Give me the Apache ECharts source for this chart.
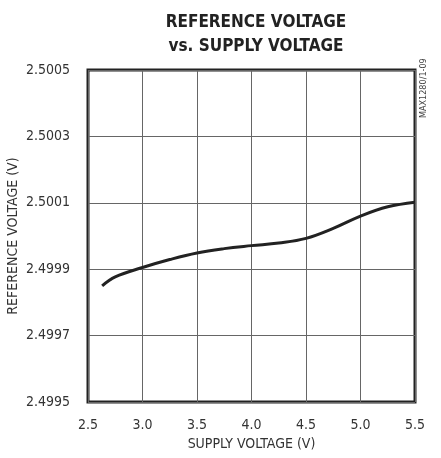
<!DOCTYPE html>
<html>
<head>
<meta charset="utf-8">
<script src="https://cdn.jsdelivr.net/npm/echarts@6/dist/echarts.min.js"></script>
<style>
html,body{margin:0;padding:0;background:#fff;}
#c{width:441px;height:458px;}
</style>
</head>
<body>
<div id="c"></div>
<script>
const supplyVoltage = [2.63, 2.75, 3.0, 3.25, 3.5, 3.75, 4.0, 4.25, 4.5, 4.75, 5.0, 5.25, 5.5];
const referenceVoltage = [2.49985, 2.499877, 2.499905, 2.499929, 2.499949, 2.499962, 2.499971, 2.499979, 2.499993, 2.500023, 2.50006, 2.500088, 2.500102];
const titleLines = ['REFERENCE VOLTAGE', 'vs. SUPPLY VOLTAGE'];
const xName = 'SUPPLY VOLTAGE (V)';
const yName = 'REFERENCE VOLTAGE (V)';
const sideNote = 'MAX1280/1-09';

const FONT = '"Liberation Sans Narrow", "DejaVu Sans Condensed", "Liberation Sans", sans-serif';
const chart = echarts.init(document.getElementById('c'));
chart.setOption({
  animation: false,
  backgroundColor: '#fff',
  title: {
    text: titleLines.join('\n'),
    left: 251, top: 6, textAlign: 'center',
    textStyle: { fontFamily: FONT, fontWeight: 'bold', fontSize: 17, lineHeight: 24, color: '#222' }
  },
  grid: { left: 88, right: 26, top: 70, bottom: 56, show: true, borderColor: '#222', borderWidth: 3, containLabel: false, outerBoundsMode: 'none' },
  xAxis: {
    type: 'value', min: 2.5, max: 5.5, interval: 0.5,
    name: xName, nameLocation: 'middle', nameGap: 35, nameMoveOverlap: false,
    nameTextStyle: { fontFamily: FONT, fontSize: 14, color: '#333' },
    axisLine: { show: false }, axisTick: { show: false },
    axisLabel: { fontFamily: FONT, fontSize: 14, color: '#333', margin: 16, formatter: v => v.toFixed(1) },
    splitLine: { show: true, lineStyle: { color: '#666', width: 1 } }
  },
  yAxis: {
    type: 'value', min: 2.4995, max: 2.5005, interval: 0.0002,
    name: yName, nameLocation: 'middle', nameGap: 68, nameRotate: 90, nameMoveOverlap: false,
    nameTextStyle: { fontFamily: FONT, fontSize: 14, color: '#333' },
    axisLine: { show: false }, axisTick: { show: false },
    axisLabel: { fontFamily: FONT, fontSize: 14, color: '#333', margin: 18, formatter: v => v.toFixed(4) },
    splitLine: { show: true, lineStyle: { color: '#666', width: 1 } }
  },
  graphic: [{
    type: 'text', x: 419, y: 118, rotation: Math.PI / 2, originX: 0, originY: 0,
    style: { text: sideNote, fontFamily: FONT, fontSize: 9, fill: '#444' }
  }],
  series: [{
    type: 'line', smooth: 0.4, showSymbol: false,
    data: supplyVoltage.map((x, i) => [x, referenceVoltage[i]]),
    lineStyle: { color: '#222', width: 3 }
  }]
});
</script>
</body>
</html>
